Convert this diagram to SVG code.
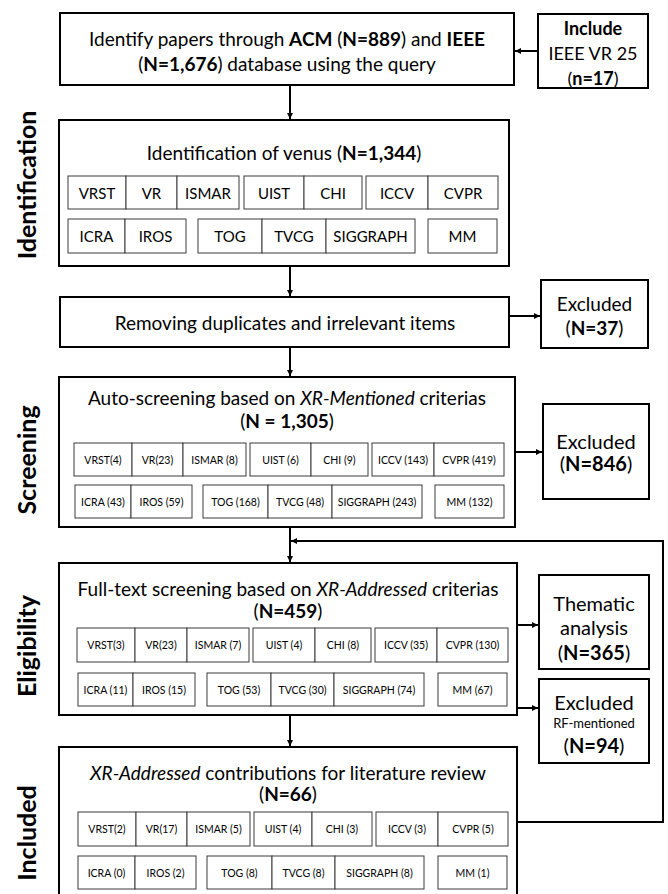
<svg xmlns="http://www.w3.org/2000/svg" width="668" height="894" viewBox="0 0 668 894">
<defs>
<style>
.box{fill:#fff;stroke:#000;stroke-width:2}
.cell{fill:#fff;stroke:#3a3a3a;stroke-width:1}
text{font-family:Lato,"Open Sans","Liberation Sans",sans-serif;fill:#000;text-anchor:middle;dominant-baseline:central}
.t19{font-size:19px}
.t20{font-size:20px}
.t18{font-size:18px}
.t13{font-size:13px}
.c15{font-size:15px}
.c10{font-size:10.5px}
.lbl{font-size:25px;font-weight:bold;dominant-baseline:alphabetic}
.b{font-weight:bold}
.i{font-style:italic}
.conn{stroke:#000;stroke-width:2;fill:none;marker-end:url(#ah)}
</style>
<marker id="ah" viewBox="0 0 10 10" refX="10" refY="5" markerWidth="3.5" markerHeight="3" orient="auto" markerUnits="strokeWidth">
<path d="M0,0 L10,5 L0,10 z" fill="#000"/>
</marker>
</defs>
<rect width="668" height="894" fill="#fff"/>

<g id="stage-labels">
<text class="lbl" transform="translate(36,185) rotate(-90)">Identification</text>
<text class="lbl" transform="translate(36,460) rotate(-90)">Screening</text>
<text class="lbl" transform="translate(36,646) rotate(-90)">Eligibility</text>
<text class="lbl" transform="translate(36,833) rotate(-90)">Included</text>
</g>

<g id="connectors">
<line class="conn" x1="538" y1="51" x2="515" y2="51"/>
<line class="conn" x1="290" y1="85" x2="290" y2="119"/>
<line class="conn" x1="290" y1="266" x2="290" y2="296"/>
<line class="conn" x1="509" y1="316" x2="540" y2="316"/>
<line class="conn" x1="290" y1="347" x2="290" y2="376"/>
<line class="conn" x1="515" y1="452" x2="542" y2="452"/>
<line class="conn" x1="290" y1="527" x2="290" y2="562"/>
<polyline class="conn" points="517,822 663,822 663,541 291,541"/>
<line class="conn" x1="517" y1="625" x2="538" y2="625"/>
<line class="conn" x1="517" y1="708" x2="538" y2="708"/>
<line class="conn" x1="290" y1="715" x2="290" y2="746"/>
</g>

<g id="query">
<rect class="box" x="60" y="13" width="454" height="72"/>
<text class="t19" x="287" y="38">Identify papers through <tspan class="b">ACM</tspan> (<tspan class="b">N=889</tspan>) and <tspan class="b">IEEE</tspan></text>
<text class="t19" x="287" y="63">(<tspan class="b">N=1,676</tspan>) database using the query</text>
</g>

<g id="include">
<rect class="box" x="538" y="14" width="110" height="74"/>
<text class="t18 b" x="593" y="28">Include</text>
<text class="t18" x="593" y="53">IEEE VR 25</text>
<text class="t18" x="593" y="78">(<tspan class="b">n=17</tspan>)</text>
</g>

<g id="identification">
<rect class="box" x="59" y="120" width="450" height="146"/>
<text class="t19" x="284" y="152">Identification of venus (<tspan class="b">N=1,344</tspan>)</text>
<g class="c15">
<rect class="cell" x="68" y="176" width="58" height="33"/><text x="97" y="192.5">VRST</text>
<rect class="cell" x="126" y="176" width="51" height="33"/><text x="151.5" y="192.5">VR</text>
<rect class="cell" x="177" y="176" width="62" height="33"/><text x="208" y="192.5">ISMAR</text>
<rect class="cell" x="244" y="176" width="60" height="33"/><text x="274" y="192.5">UIST</text>
<rect class="cell" x="304" y="176" width="58" height="33"/><text x="333" y="192.5">CHI</text>
<rect class="cell" x="366" y="176" width="62" height="33"/><text x="397" y="192.5">ICCV</text>
<rect class="cell" x="428" y="176" width="70" height="33"/><text x="463" y="192.5">CVPR</text>
<rect class="cell" x="68" y="219" width="57" height="34"/><text x="96.5" y="236">ICRA</text>
<rect class="cell" x="125" y="219" width="61" height="34"/><text x="155.5" y="236">IROS</text>
<rect class="cell" x="198" y="219" width="64" height="34"/><text x="230" y="236">TOG</text>
<rect class="cell" x="262" y="219" width="64" height="34"/><text x="294" y="236">TVCG</text>
<rect class="cell" x="326" y="219" width="89" height="34"/><text x="370.5" y="236">SIGGRAPH</text>
<rect class="cell" x="428" y="219" width="69" height="34"/><text x="462.5" y="236">MM</text>
</g>
</g>

<g id="dedup">
<rect class="box" x="60" y="297" width="449" height="50"/>
<text class="t19" x="285" y="322">Removing duplicates and irrelevant items</text>
</g>

<g id="excluded-37">
<rect class="box" x="541" y="280" width="107" height="68"/>
<text class="t19" x="594.5" y="303">Excluded</text>
<text class="t19" x="594.5" y="327">(<tspan class="b">N=37</tspan>)</text>
</g>

<g id="screening">
<rect class="box" x="59" y="377" width="456" height="150"/>
<text class="t19" x="287" y="397">Auto-screening based on <tspan class="i">XR-Mentioned</tspan> criterias</text>
<text class="t19" x="287" y="420">(<tspan class="b">N = 1,305</tspan>)</text>
<g class="c10">
<rect class="cell" x="74" y="443" width="58" height="33"/><text x="103" y="459.5">VRST(4)</text>
<rect class="cell" x="132" y="443" width="51" height="33"/><text x="157.5" y="459.5">VR(23)</text>
<rect class="cell" x="183" y="443" width="63" height="33"/><text x="214.5" y="459.5">ISMAR (8)</text>
<rect class="cell" x="250" y="443" width="61" height="33"/><text x="280.5" y="459.5">UIST (6)</text>
<rect class="cell" x="311" y="443" width="57" height="33"/><text x="339.5" y="459.5">CHI (9)</text>
<rect class="cell" x="372" y="443" width="62" height="33"/><text x="403" y="459.5">ICCV (143)</text>
<rect class="cell" x="434" y="443" width="70" height="33"/><text x="469" y="459.5">CVPR (419)</text>
<rect class="cell" x="75" y="485" width="56" height="33"/><text x="103" y="501.5">ICRA (43)</text>
<rect class="cell" x="131" y="485" width="61" height="33"/><text x="161.5" y="501.5">IROS (59)</text>
<rect class="cell" x="203" y="485" width="65" height="33"/><text x="235.5" y="501.5">TOG (168)</text>
<rect class="cell" x="268" y="485" width="64" height="33"/><text x="300" y="501.5">TVCG (48)</text>
<rect class="cell" x="332" y="485" width="90" height="33"/><text x="377" y="501.5">SIGGRAPH (243)</text>
<rect class="cell" x="435" y="485" width="69" height="33"/><text x="469.5" y="501.5">MM (132)</text>
</g>
</g>

<g id="excluded-846">
<rect class="box" x="543" y="404" width="106" height="95"/>
<text class="t20" x="596" y="441">Excluded</text>
<text class="t20" x="596" y="463">(<tspan class="b">N=846</tspan>)</text>
</g>

<g id="eligibility">
<rect class="box" x="59" y="563" width="458" height="152"/>
<text class="t19" x="288" y="588">Full-text screening based on <tspan class="i">XR-Addressed</tspan> criterias</text>
<text class="t19" x="288" y="610">(<tspan class="b">N=459</tspan>)</text>
<g class="c10">
<rect class="cell" x="77" y="628" width="58" height="34"/><text x="106" y="645">VRST(3)</text>
<rect class="cell" x="135" y="628" width="52" height="34"/><text x="161" y="645">VR(23)</text>
<rect class="cell" x="187" y="628" width="62" height="34"/><text x="218" y="645">ISMAR (7)</text>
<rect class="cell" x="253" y="628" width="62" height="34"/><text x="284" y="645">UIST (4)</text>
<rect class="cell" x="315" y="628" width="56" height="34"/><text x="343" y="645">CHI (8)</text>
<rect class="cell" x="375" y="628" width="62" height="34"/><text x="406" y="645">ICCV (35)</text>
<rect class="cell" x="437" y="628" width="71" height="34"/><text x="472.5" y="645">CVPR (130)</text>
<rect class="cell" x="78" y="673" width="55" height="33"/><text x="105.5" y="689.5">ICRA (11)</text>
<rect class="cell" x="133" y="673" width="62" height="33"/><text x="164" y="689.5">IROS (15)</text>
<rect class="cell" x="207" y="673" width="64" height="33"/><text x="239" y="689.5">TOG (53)</text>
<rect class="cell" x="271" y="673" width="63" height="33"/><text x="302.5" y="689.5">TVCG (30)</text>
<rect class="cell" x="334" y="673" width="90" height="33"/><text x="379" y="689.5">SIGGRAPH (74)</text>
<rect class="cell" x="438" y="673" width="69" height="33"/><text x="472.5" y="689.5">MM (67)</text>
</g>
</g>

<g id="thematic">
<rect class="box" x="539" y="575" width="110" height="94"/>
<text class="t20" x="594" y="603">Thematic</text>
<text class="t20" x="594" y="627">analysis</text>
<text class="t20" x="594" y="652">(<tspan class="b">N=365</tspan>)</text>
</g>

<g id="excluded-94">
<rect class="box" x="539" y="679" width="110" height="84"/>
<text class="t20" x="594" y="702">Excluded</text>
<text class="t13" x="594" y="723">RF-mentioned</text>
<text class="t20" x="594" y="745">(<tspan class="b">N=94</tspan>)</text>
</g>

<g id="included">
<rect class="box" x="59" y="747" width="458" height="160"/>
<text class="t19" x="288" y="772"><tspan class="i">XR-Addressed</tspan> contributions for literature review</text>
<text class="t19" x="288" y="793">(<tspan class="b">N=66</tspan>)</text>
<g class="c10">
<rect class="cell" x="78" y="812" width="58" height="34"/><text x="107" y="829">VRST(2)</text>
<rect class="cell" x="136" y="812" width="51" height="34"/><text x="161.5" y="829">VR(17)</text>
<rect class="cell" x="187" y="812" width="63" height="34"/><text x="218.5" y="829">ISMAR (5)</text>
<rect class="cell" x="254" y="812" width="58" height="34"/><text x="283" y="829">UIST (4)</text>
<rect class="cell" x="312" y="812" width="60" height="34"/><text x="342" y="829">CHI (3)</text>
<rect class="cell" x="376" y="812" width="62" height="34"/><text x="407" y="829">ICCV (3)</text>
<rect class="cell" x="438" y="812" width="70" height="34"/><text x="473" y="829">CVPR (5)</text>
<rect class="cell" x="78" y="856" width="57" height="33"/><text x="106.5" y="872.5">ICRA (0)</text>
<rect class="cell" x="135" y="856" width="61" height="33"/><text x="165.5" y="872.5">IROS (2)</text>
<rect class="cell" x="207" y="856" width="65" height="33"/><text x="239.5" y="872.5">TOG (8)</text>
<rect class="cell" x="272" y="856" width="63" height="33"/><text x="303.5" y="872.5">TVCG (8)</text>
<rect class="cell" x="335" y="856" width="89" height="33"/><text x="379.5" y="872.5">SIGGRAPH (8)</text>
<rect class="cell" x="438" y="856" width="69" height="33"/><text x="472.5" y="872.5">MM (1)</text>
</g>
</g>
</svg>
